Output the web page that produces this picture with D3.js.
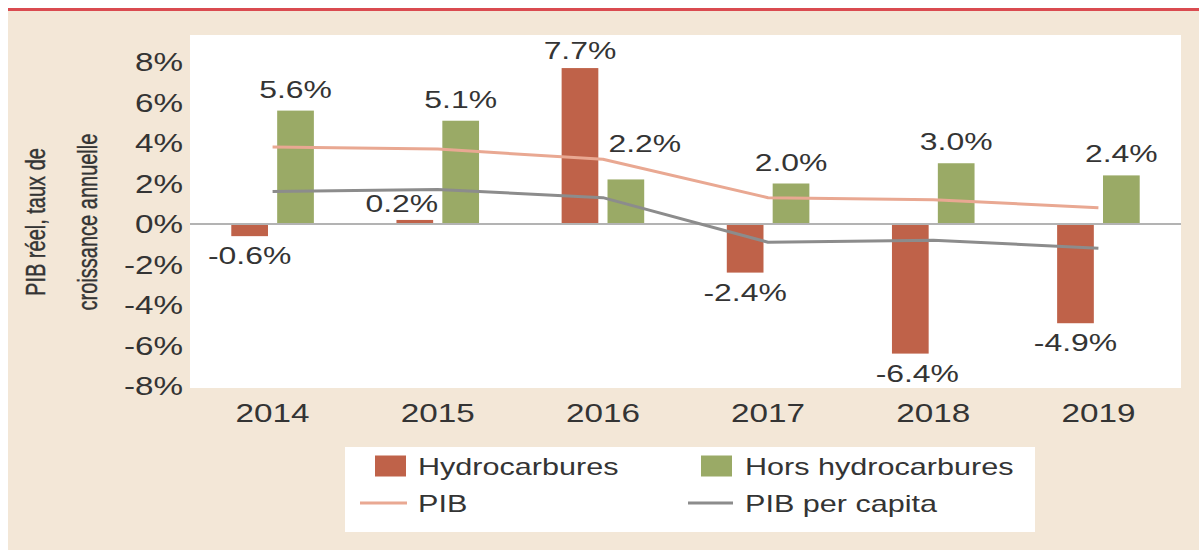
<!DOCTYPE html>
<html>
<head>
<meta charset="utf-8">
<script src="https://cdn.jsdelivr.net/npm/d3@7/dist/d3.min.js"></script>
<style>
  html, body { margin: 0; padding: 0; background: #ffffff; }
  svg { display: block; }
  text { font-family: "Liberation Sans", Arial, Helvetica, sans-serif; fill: #343434; }
</style>
</head>
<body>
<svg id="chart" width="1199" height="550"></svg>
<script>
// ---- data ----
const years = ["2014", "2015", "2016", "2017", "2018", "2019"];
const hydrocarbures = [-0.6, 0.2, 7.7, -2.4, -6.4, -4.9];
const horsHydrocarbures = [5.6, 5.1, 2.2, 2.0, 3.0, 2.4];
const pib = [3.8, 3.7, 3.2, 1.3, 1.2, 0.8];
const pibPerCapita = [1.6, 1.7, 1.3, -0.9, -0.8, -1.2];
const yTickValues = [-8, -6, -4, -2, 0, 2, 4, 6, 8];
const seriesNames = ["Hydrocarbures", "Hors hydrocarbures", "PIB", "PIB per capita"];
const yTitleLines = ["PIB réel, taux de", "croissance annuelle"];

// ---- style ----
const W = 1199, H = 550;
const SX = 1.33;               // horizontal stretch of the text glyphs
const colRed = "#bf6249", colGreen = "#9aaa66", colPib = "#e9a892", colCap = "#8c8c8c";
const bg = "#f3e7d7";
const plot = { left: 190, right: 1181, top: 35, bottom: 388 };

const svg = d3.select("#chart");

// background
svg.append("rect").attr("x", 8).attr("y", 9).attr("width", W - 8).attr("height", H - 9).attr("fill", bg);
svg.append("rect").attr("x", 8).attr("y", 8).attr("width", W - 8).attr("height", 3).attr("fill", "#da4b50");
svg.append("rect").attr("x", plot.left).attr("y", plot.top)
   .attr("width", plot.right - plot.left).attr("height", plot.bottom - plot.top).attr("fill", "#ffffff");

// scales
const x0 = d3.scaleBand().domain(years).range([plot.left, plot.right]).paddingInner(0.5).paddingOuter(0.25);
const x1 = d3.scaleBand().domain(["h", "hh"]).range([0, x0.bandwidth()]).paddingInner(0.2);
const y = d3.scaleLinear().domain([-8, 8]).range([386, 62]);

const fmt = v => (v < 0 ? "-" : "") + Math.abs(v).toFixed(1) + "%";

function stretchedText(parent, x, yy, str, size, anchor) {
  const g = parent.append("g").attr("transform", `translate(${x},${yy}) scale(${SX},1)`);
  g.append("text").attr("x", 0).attr("y", 0).attr("text-anchor", anchor || "middle")
    .style("font-size", size + "px").text(str);
  return g;
}

// y tick labels
const yAxis = svg.append("g").attr("class", "y-axis");
yTickValues.forEach(t => {
  stretchedText(yAxis, 183, y(t) + 9, (t < 0 ? "-" : "") + Math.abs(t) + "%", 25, "end");
});

// y title
yTitleLines.forEach((line, i) => {
  const g = svg.append("g")
    .attr("transform", `translate(${i === 0 ? 45 : 97},222) scale(1.4,1) rotate(-90)`);
  g.append("text").attr("text-anchor", "middle").style("font-size", "20px")
    .style("stroke", "#343434").style("stroke-width", 0.3).text(line);
});

// x labels
const xAxis = svg.append("g").attr("class", "x-axis");
years.forEach(yr => stretchedText(xAxis, x0(yr) + x0.bandwidth() / 2, 422, yr, 25, "middle"));

// bars
const rows = years.map((yr, i) => ({ yr, h: hydrocarbures[i], hh: horsHydrocarbures[i] }));
const bars = svg.append("g");
rows.forEach(r => {
  [["h", r.h, colRed], ["hh", r.hh, colGreen]].forEach(([k, v, c]) => {
    bars.append("rect")
      .attr("x", x0(r.yr) + x1(k))
      .attr("y", Math.min(y(v), y(0)))
      .attr("width", x1.bandwidth())
      .attr("height", Math.abs(y(v) - y(0)))
      .attr("fill", c);
  });
});

// zero line
svg.append("line").attr("x1", plot.left).attr("x2", plot.right)
  .attr("y1", y(0)).attr("y2", y(0)).attr("stroke", "#b3b3b3").attr("stroke-width", 2);

// lines
const cx = i => x0(years[i]) + x0.bandwidth() / 2;
const lineGen = d3.line().x((d, i) => cx(i)).y(d => y(d)).curve(d3.curveLinear);
svg.append("path").attr("d", lineGen(pib)).attr("fill", "none").attr("stroke", colPib)
  .attr("stroke-width", 3).attr("stroke-linejoin", "round");
svg.append("path").attr("d", lineGen(pibPerCapita)).attr("fill", "none").attr("stroke", colCap)
  .attr("stroke-width", 3).attr("stroke-linejoin", "round");

// data labels (small nudges where the original moved them)
const nudgeHydro = [[0, 0], [-13, 5], [0, 4], [0, 0], [7, 0], [0, 0]];
const nudgeHors = [[0, 0], [0, 0], [19, -14], [0, 0], [0, 0], [0, 0]];
const labels = svg.append("g");
rows.forEach((r, i) => {
  [["h", r.h, nudgeHydro[i]], ["hh", r.hh, nudgeHors[i]]].forEach(([k, v, nd]) => {
    const bx = x0(r.yr) + x1(k) + x1.bandwidth() / 2;
    const by = v >= 0 ? y(v) - 13 : y(v) + 28;
    stretchedText(labels, bx + nd[0], by + nd[1], fmt(v), 24, "middle");
  });
});

// legend
const lg = svg.append("g");
lg.append("rect").attr("x", 345).attr("y", 447).attr("width", 690).attr("height", 85).attr("fill", "#ffffff");
const legendItems = [
  { name: seriesNames[0], type: "rect", color: colRed, x: 375, y: 466 },
  { name: seriesNames[1], type: "rect", color: colGreen, x: 701, y: 466 },
  { name: seriesNames[2], type: "line", color: colPib, x: 360, y: 503 },
  { name: seriesNames[3], type: "line", color: colCap, x: 688, y: 503 }
];
legendItems.forEach(it => {
  if (it.type === "rect") {
    lg.append("rect").attr("x", it.x).attr("y", it.y - 10.5).attr("width", 31).attr("height", 21).attr("fill", it.color);
  } else {
    lg.append("line").attr("x1", it.x).attr("x2", 407 + (it.x > 500 ? 326 : 0)).attr("y1", it.y).attr("y2", it.y)
      .attr("stroke", it.color).attr("stroke-width", 3);
  }
  stretchedText(lg, it.x > 500 ? 745 : 418, it.y + 9, it.name, 23, "start");
});
</script>
</body>
</html>
